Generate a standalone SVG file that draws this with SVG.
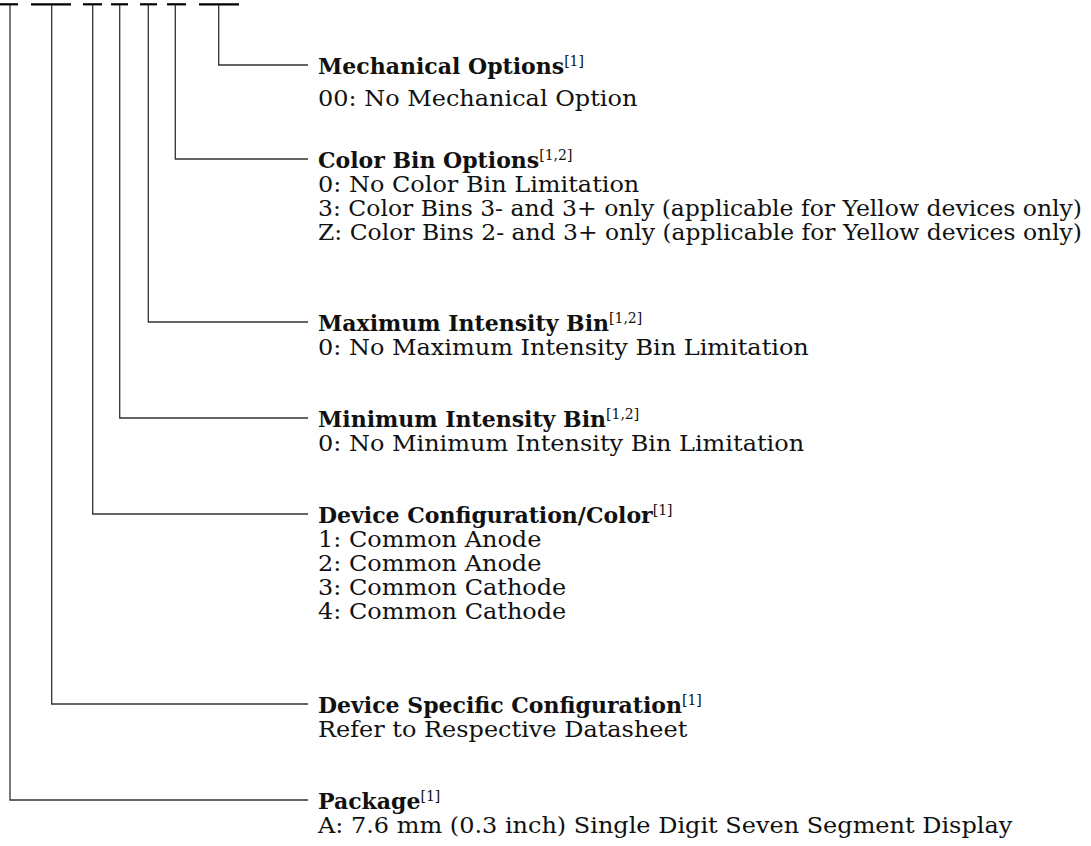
<svg xmlns="http://www.w3.org/2000/svg" width="1091" height="846" viewBox="0 0 1091 846">
<style>
.bar{stroke:#000;stroke-width:2.2;fill:none}
.ln{stroke:#333;stroke-width:1.3;fill:none}
text{font-family:"DejaVu Serif","Liberation Serif",serif;font-size:22px;fill:#111}
.h{font-weight:bold}
.sup{font-weight:normal;font-size:14px}
</style>
<rect width="1091" height="846" fill="#fff"/>
<g id="digits">
<line class="bar" x1="0" y1="4.3" x2="18" y2="4.3"/>
<line class="bar" x1="31" y1="4.3" x2="71" y2="4.3"/>
<line class="bar" x1="83" y1="4.3" x2="102" y2="4.3"/>
<line class="bar" x1="111" y1="4.3" x2="128" y2="4.3"/>
<line class="bar" x1="140" y1="4.3" x2="157" y2="4.3"/>
<line class="bar" x1="167" y1="4.3" x2="186" y2="4.3"/>
<line class="bar" x1="199" y1="4.3" x2="239" y2="4.3"/>
</g>
<g id="connectors">
<polyline class="ln" points="218.7,5 218.7,65 308,65"/>
<polyline class="ln" points="175.3,5 175.3,159 308,159"/>
<polyline class="ln" points="148.3,5 148.3,322 308,322"/>
<polyline class="ln" points="119.7,5 119.7,418 308,418"/>
<polyline class="ln" points="92.7,5 92.7,514 308,514"/>
<polyline class="ln" points="51.7,5 51.7,704 308,704"/>
<polyline class="ln" points="10,5 10,800 308,800"/>
</g>
<g id="mechanical">
<text x="318" y="74" class="h">Mechanical Options<tspan class="sup" dy="-8">[1]</tspan></text>
<text transform="translate(318,106) scale(1.09,1)">00: No Mechanical Option</text>
</g>
<g id="colorbin">
<text x="318" y="168" class="h">Color Bin Options<tspan class="sup" dy="-8">[1,2]</tspan></text>
<text transform="translate(318,192) scale(1.09,1)">0: No Color Bin Limitation</text>
<text x="318" y="216" textLength="764" lengthAdjust="spacingAndGlyphs">3: Color Bins 3- and 3+ only (applicable for Yellow devices only)</text>
<text x="318" y="240" textLength="764" lengthAdjust="spacingAndGlyphs">Z: Color Bins 2- and 3+ only (applicable for Yellow devices only)</text>
</g>
<g id="maxbin">
<text x="318" y="331" class="h">Maximum Intensity Bin<tspan class="sup" dy="-8">[1,2]</tspan></text>
<text transform="translate(318,355) scale(1.09,1)">0: No Maximum Intensity Bin Limitation</text>
</g>
<g id="minbin">
<text x="318" y="427" class="h">Minimum Intensity Bin<tspan class="sup" dy="-8">[1,2]</tspan></text>
<text transform="translate(318,451) scale(1.09,1)">0: No Minimum Intensity Bin Limitation</text>
</g>
<g id="devconfig">
<text x="318" y="523" class="h">Device Configuration/Color<tspan class="sup" dy="-8">[1]</tspan></text>
<text transform="translate(318,547) scale(1.09,1)">1: Common Anode</text>
<text transform="translate(318,571) scale(1.09,1)">2: Common Anode</text>
<text transform="translate(318,595) scale(1.09,1)">3: Common Cathode</text>
<text transform="translate(318,619) scale(1.09,1)">4: Common Cathode</text>
</g>
<g id="devspecific">
<text x="318" y="713" class="h">Device Specific Configuration<tspan class="sup" dy="-8">[1]</tspan></text>
<text transform="translate(318,737) scale(1.09,1)">Refer to Respective Datasheet</text>
</g>
<g id="package">
<text x="318" y="809" class="h">Package<tspan class="sup" dy="-8">[1]</tspan></text>
<text transform="translate(318,833) scale(1.09,1)">A: 7.6 mm (0.3 inch) Single Digit Seven Segment Display</text>
</g>
</svg>
